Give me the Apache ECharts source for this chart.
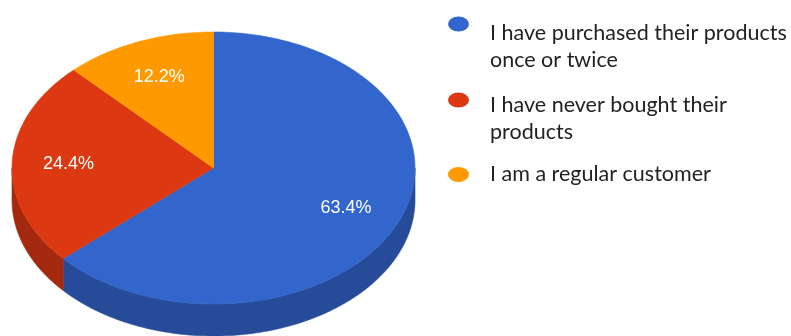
<!DOCTYPE html>
<html>
<head>
<meta charset="utf-8">
<script src="https://cdn.jsdelivr.net/npm/echarts@6/dist/echarts.min.js"></script>
<style>
html, body { margin: 0; padding: 0; background: #fff; }
#chart { width: 791px; height: 336px; }
</style>
</head>
<body>
<div id="chart"></div>
<script>
// data
var categories = ['I have purchased their products once or twice', 'I have never bought their products', 'I am a regular customer'];
var values = [63.4, 24.4, 12.2];
var legendLines = [['I have purchased their products', 'once or twice'], ['I have never bought their', 'products'], ['I am a regular customer']];
var colors = ['#3366cc', '#dc3912', '#ff9900'];
var sideColors = ['#264c99', '#a5290e', '#bf7300'];

// ellipse geometry of the tilted pie
var cx = 213.5, cy = 168, rx = 201.5, ry = 136, depth = 32;
var total = values.reduce(function (a, b) { return a + b; }, 0);

function pt(a, dy) {
    return [cx + rx * Math.sin(a), cy - ry * Math.cos(a) + (dy || 0)];
}
function arc(a0, a1, dy) {
    var n = Math.max(2, Math.ceil((a1 - a0) / 0.02));
    var pts = [];
    for (var i = 0; i <= n; i++) pts.push(pt(a0 + (a1 - a0) * i / n, dy));
    return pts;
}

function renderSlice(params, api) {
    var i = params.seriesIndex;
    var a0 = api.value(0) / total * 2 * Math.PI;
    var a1 = api.value(1) / total * 2 * Math.PI;
    var children = [];
    // front wall (only the part facing the viewer)
    var s0 = Math.max(a0, Math.PI / 2), s1 = Math.min(a1, Math.PI * 1.5);
    if (s1 > s0) {
        var side = arc(s0, s1, 0).concat(arc(s0, s1, depth).reverse());
        children.push({
            type: 'polygon', shape: { points: side },
            style: { fill: sideColors[i], stroke: sideColors[i], lineWidth: 0.6 }
        });
    }
    // top face
    var top = [[cx, cy]].concat(arc(a0, a1, 0));
    children.push({
        type: 'polygon', shape: { points: top },
        style: { fill: colors[i], stroke: colors[i], lineWidth: 0.6 }
    });
    // percent label
    var mid = (a0 + a1) / 2;
    children.push({
        type: 'text',
        x: cx + rx * 0.72 * Math.sin(mid),
        y: cy - ry * 0.72 * Math.cos(mid),
        style: {
            text: (api.value(2) / total * 100).toFixed(1) + '%',
            fill: '#fff', font: '18px "Liberation Sans", Arial, sans-serif',
            align: 'center', verticalAlign: 'middle'
        }
    });
    return { type: 'group', children: children };
}

var starts = [];
var acc = 0;
values.forEach(function (v) { starts.push(acc); acc += v; });

// one legend per entry; a spacer line lifts the dot to the first text line
var spacers = [45, 37, 0];
var legendTops = [-3.5, 72.5, 163.5];
var legends = categories.map(function (name, i) {
    return {
        orient: 'vertical',
        left: 448,
        top: legendTops[i],
        padding: 0,
        icon: 'path://M0 5A7 5 0 1 0 14 5A7 5 0 1 0 0 5Z',
        itemWidth: 21,
        itemHeight: 15,
        data: [name],
        textStyle: {
            padding: [0, 0, 0, 16],
            rich: {
                s: { fontSize: 1, lineHeight: spacers[i] },
                t: { fontFamily: 'Lato', fontSize: 21.5, color: '#222', lineHeight: 27 }
            }
        },
        formatter: function (n) {
            var lines = legendLines[categories.indexOf(n)].map(function (s) { return '{t|' + s + '}'; });
            if (spacers[i] > 0) lines.unshift('{s| }');
            return lines.join('\n');
        }
    };
});

var myChart = echarts.init(document.getElementById('chart'));
var option = {
    animation: false,
    legend: legends,
    series: categories.map(function (name, i) {
        return {
            type: 'custom',
            name: name,
            coordinateSystem: 'none',
            itemStyle: { color: colors[i] },
            renderItem: renderSlice,
            data: [[starts[i], starts[i] + values[i], values[i]]]
        };
    })
};
myChart.setOption(option);
</script>
</body>
</html>
